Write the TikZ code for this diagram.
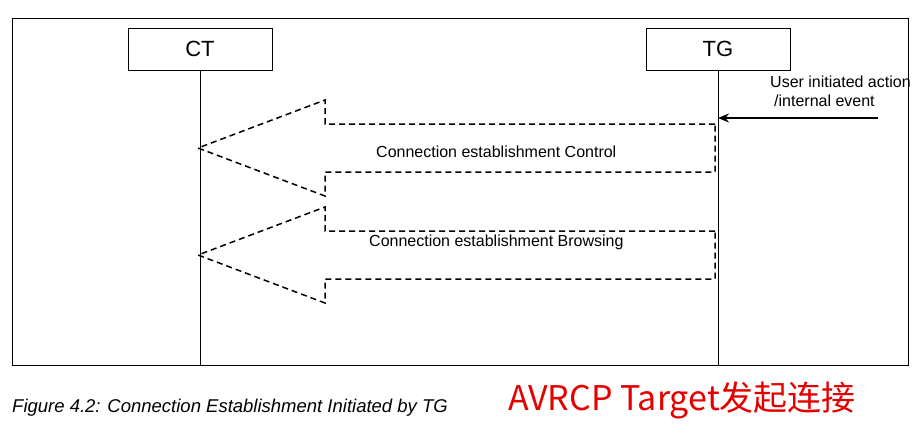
\documentclass[tikz,border=0pt]{standalone}
\usepackage{fontspec}
\setmainfont{Liberation Sans}
\newfontfamily\cjkfont{Noto Sans CJK SC}
\usetikzlibrary{arrows.meta}
\tikzstyle{lifeBox} = [rectangle, draw=black, line width=0.8pt, minimum width=144pt, minimum height=42pt, font=\fontsize{22}{26}\selectfont]
\tikzstyle{bigArrow} = [line width=1.5pt, dash pattern=on 6pt off 4pt]
\tikzstyle{msgLabel} = [font=\fontsize{16}{19}\selectfont, anchor=west, inner sep=0pt]
\begin{document}
\begin{tikzpicture}[x=1pt, y=-1pt]
    \useasboundingbox (0,0) rectangle (919,426);
    \draw [line width=0.8pt] (12,18) rectangle (908,365);
    \node (ct) [lifeBox] at (200,49) {CT};
    \node (tg) [lifeBox] at (718,49) {TG};
    \coordinate (ctEnd) at (200,365);
    \coordinate (tgEnd) at (718,365);
    \draw [line width=1pt] (ct) -- (ctEnd);
    \draw [line width=1pt] (tg) -- (tgEnd);

    % connection control
    \draw [bigArrow] (715,124) -- (325,124) -- (325,100) -- (198,148) -- (325,196) -- (325,172) -- (715,172) -- cycle;
    \node (ctrl) [msgLabel] at (376,152) {Connection establishment Control};
    % connection browsing
    \draw [bigArrow] (715,231) -- (325,231) -- (325,207) -- (198,255) -- (325,303) -- (325,279) -- (715,279) -- cycle;
    \node (brws) [msgLabel] at (369,242) {Connection establishment Browsing};

    % trigger
    \coordinate (trig) at (878,118);
    \coordinate (trigEnd) at (718,118);
    \draw [line width=2pt, -{Stealth[length=11pt, width=9pt]}] (trig) -- (trigEnd);
    \node (user) [msgLabel, anchor=south west, align=left, inner sep=1pt] at (769,108) {User initiated action\\\hspace*{4pt}/internal event};

    \node (caption) [anchor=west, inner sep=0pt, font=\fontsize{18.5}{22}\selectfont\itshape] at (12,408) {Figure 4.2: Connection Establishment Initiated by TG};
    \node (note) [anchor=west, inner sep=0pt, text=red!90!black, font=\cjkfont\fontsize{34}{40}\selectfont] at (508,400) {AVRCP Target发起连接};
\end{tikzpicture}
\end{document}
